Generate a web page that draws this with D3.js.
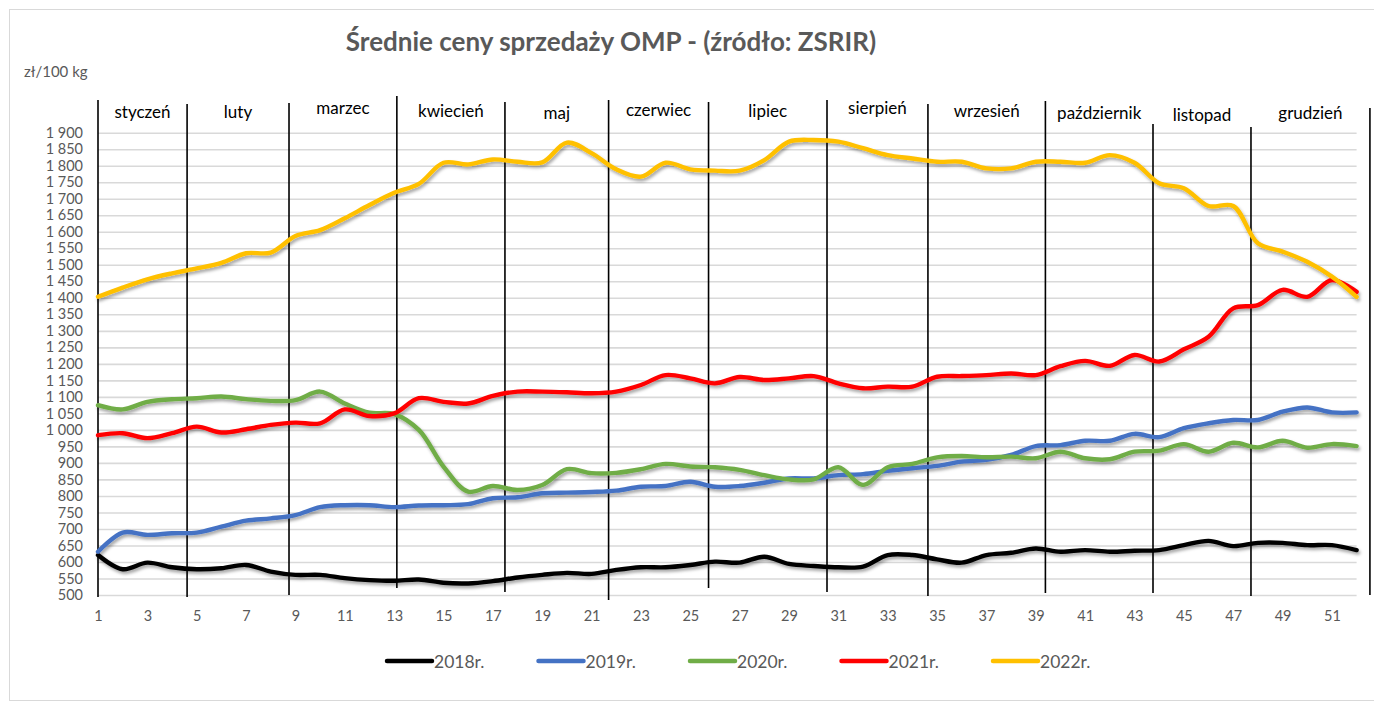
<!DOCTYPE html>
<html><head><meta charset="utf-8">
<script src="https://cdn.jsdelivr.net/npm/d3@7"></script>
<style>
html,body{margin:0;padding:0;background:#fff;}
svg{display:block;}
text{font-family:Lato,"Open Sans",sans-serif;}
</style></head>
<body>
<svg id="chart" width="1374" height="702"></svg>
<script>
// ---------- DATA ----------
const weeks = d3.range(1, 53);
const years = ["2018r.", "2019r.", "2020r.", "2021r.", "2022r."];
const colors = ["#000000", "#4472C4", "#70AD47", "#FF0000", "#FFC000"];

const v2018 = [621,578,598,584,578,581,591,571,561,561,551,545,543,547,537,535,542,553,561,567,564,576,584,584,591,601,598,616,594,588,584,586,621,621,608,598,621,628,641,631,636,631,634,636,651,664,648,658,658,651,651,636];
const v2019 = [631,689,682,687,689,707,725,732,742,766,772,772,766,771,772,775,793,796,808,810,812,816,828,830,843,828,830,840,853,853,863,866,876,884,891,904,909,924,951,954,967,967,988,978,1005,1020,1030,1030,1055,1068,1053,1053];
const v2020 = [1075,1062,1085,1093,1096,1101,1093,1088,1090,1116,1080,1052,1048,1000,889,813,830,818,833,881,869,870,881,897,889,887,879,863,850,850,887,833,887,897,917,921,917,919,914,934,914,911,934,937,957,934,961,947,967,946,957,951];
const v2021 = [984,990,975,990,1010,992,1002,1015,1022,1020,1062,1042,1050,1096,1085,1080,1103,1116,1116,1114,1111,1116,1136,1166,1156,1141,1160,1151,1156,1163,1141,1126,1131,1131,1161,1163,1166,1171,1166,1193,1209,1194,1227,1207,1244,1282,1368,1378,1424,1403,1454,1418];
const v2022 = [1403,1431,1456,1474,1489,1506,1535,1537,1587,1605,1641,1681,1718,1745,1809,1804,1819,1812,1810,1870,1838,1789,1767,1809,1789,1785,1785,1817,1873,1878,1873,1853,1832,1822,1812,1812,1792,1792,1812,1812,1809,1832,1809,1747,1732,1678,1678,1565,1540,1509,1464,1403];
const seriesValues = [v2018, v2019, v2020, v2021, v2022];

const yTicks = d3.range(500, 1901, 50);
const xTicks = d3.range(1, 53, 2);

const monthNames = ["styczeń","luty","marzec","kwiecień","maj","czerwiec","lipiec","sierpień","wrzesień","październik","listopad","grudzień"];
// month boundaries on the week axis
const monthBounds = [1.0, 4.61, 8.74, 13.11, 17.49, 21.69, 25.74, 30.54, 34.63, 39.39, 43.75, 47.72, 52.54];

const title = "Średnie ceny sprzedaży OMP - (źródło: ZSRIR)";
const unitLabel = "zł/100 kg";

// ---------- LAYOUT ----------
const svg = d3.select("#chart");
const W = 1374, H = 702;
const plot = {left: 98, right: 1356.6, top: 132.7, bottom: 595};
const boundTop = [100, 104, 103, 96, 102, 100, 102, 100, 104, 101, 124, 127, 108];
const boundBottom = [597, 597, 595, 588, 592, 600, 588, 592, 596, 593, 593, 596, 595];
const labelY = [112, 112, 108, 111, 113, 110, 111, 108, 111, 113, 115, 113];

const x = d3.scaleLinear().domain([1, 52]).range([plot.left, plot.right]);
const y = d3.scaleLinear().domain([500, 1900]).range([plot.bottom, plot.top]);

const defs = svg.append("defs");
const f = defs.append("filter").attr("id", "shadow").attr("x", "-5%").attr("y", "-20%").attr("width", "110%").attr("height", "140%");
f.append("feDropShadow").attr("dx", 1.5).attr("dy", 2.5).attr("stdDeviation", 1.4)
  .attr("flood-color", "#000").attr("flood-opacity", 0.35);

svg.append("rect").attr("width", W).attr("height", H).attr("fill", "#fff");
svg.append("rect").attr("x", 9.5).attr("y", 9.5).attr("width", 1400).attr("height", 691)
  .attr("fill", "none").attr("stroke", "#d9d9d9").attr("stroke-width", 1);

// title
svg.append("text").attr("x", 611).attr("y", 51).attr("text-anchor", "middle")
  .attr("font-size", 26).attr("font-weight", 700).attr("fill", "#595959")
  .text(title);
svg.append("text").attr("x", 24).attr("y", 77).attr("font-size", 15).attr("fill", "#595959").text(unitLabel);

// gridlines
svg.append("g").attr("class", "grid")
  .attr("transform", `translate(${plot.left},0)`)
  .call(d3.axisLeft(y).tickValues(yTicks).tickSize(-(plot.right - plot.left)).tickFormat(""))
  .call(g => g.select(".domain").remove())
  .call(g => g.selectAll("line").attr("stroke", "#d9d9d9").attr("stroke-width", 1.6));

// y axis labels
const loc = d3.formatLocale({decimal: ",", thousands: " ", grouping: [3], currency: ["", ""]});
const fmt = loc.format(",d");
svg.append("g").attr("transform", `translate(${plot.left},0)`)
  .call(d3.axisLeft(y).tickValues(yTicks).tickSize(0).tickPadding(15).tickFormat(fmt))
  .call(g => g.select(".domain").remove())
  .call(g => g.selectAll("text").attr("font-size", 14.5).attr("fill", "#595959").attr("font-family", "Lato"));

// x axis labels
svg.append("g").attr("transform", `translate(0,${plot.bottom})`)
  .call(d3.axisBottom(x).tickValues(xTicks).tickSize(0).tickPadding(16).tickFormat(d3.format("d")))
  .call(g => g.select(".domain").remove())
  .call(g => g.selectAll("text").attr("font-size", 14.5).attr("fill", "#595959").attr("font-family", "Lato"));

// month boundary lines
svg.append("g").selectAll("line").data(monthBounds).join("line")
  .attr("x1", d => x(d)).attr("x2", d => x(d))
  .attr("y1", (d, i) => boundTop[i]).attr("y2", (d, i) => boundBottom[i])
  .attr("stroke", "#000").attr("stroke-width", 1.6);

// month labels
svg.append("g").selectAll("text").data(monthNames).join("text")
  .attr("x", (d, i) => (x(monthBounds[i]) + x(monthBounds[i + 1])) / 2)
  .attr("y", (d, i) => labelY[i] + 5.5)
  .attr("text-anchor", "middle").attr("font-size", 17).attr("fill", "#000")
  .text(d => d);

// series
const line = d3.line().x((d, i) => x(weeks[i])).y(d => y(d)).curve(d3.curveCatmullRom.alpha(0.5));
svg.append("g").attr("filter", "url(#shadow)").selectAll("path").data(seriesValues).join("path")
  .attr("d", d => line(d)).attr("fill", "none")
  .attr("stroke", (d, i) => colors[i]).attr("stroke-width", 4.4)
  .attr("stroke-linejoin", "round").attr("stroke-linecap", "round");

// legend
const leg = svg.append("g").selectAll("g").data(years).join("g")
  .attr("transform", (d, i) => `translate(${387 + i * 151.5},661)`);
leg.append("line").attr("x1", 0).attr("x2", 45).attr("y1", 0).attr("y2", 0)
  .attr("stroke", (d, i) => colors[i]).attr("stroke-width", 4.5).attr("stroke-linecap", "round");
leg.append("text").attr("x", 47).attr("y", 6.5).attr("font-size", 17.5).attr("fill", "#595959").text(d => d);
</script>
</body></html>
